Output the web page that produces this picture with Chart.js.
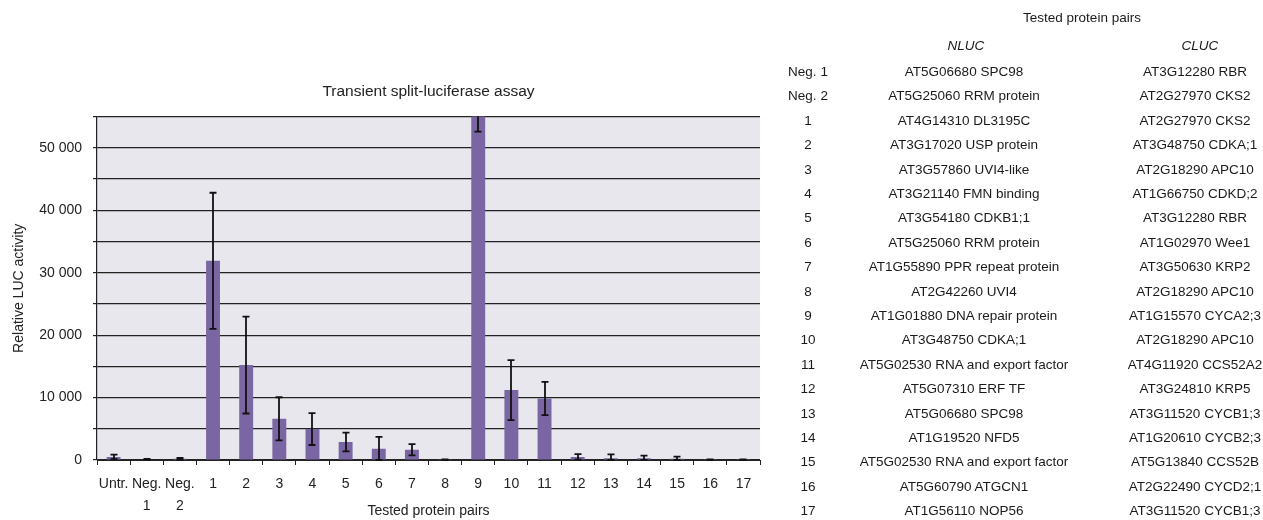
<!DOCTYPE html>
<html>
<head>
<meta charset="utf-8">
<title>Transient split-luciferase assay</title>
<script src="https://cdn.jsdelivr.net/npm/chart.js@4"></script>
<style>
  body { margin: 0; background: #fff; font-family: "Liberation Sans", Arial, sans-serif; }
  #wrap { position: absolute; left: 0; top: 0; width: 780px; height: 520px; }
  #pairs { position: absolute; left: 0; top: 0; width: 1263px; height: 520px; pointer-events: none; }
  .cell { position: absolute; white-space: nowrap; transform: translate(-50%, -50%); font-size: 13.5px; color: #1a1a1a; }
  .head { font-style: italic; }
</style>
</head>
<body>
<div id="wrap"><canvas id="lucChart"></canvas></div>
<div id="pairs"></div>
<script>
// bar chart data
const categories = ['Untr.', ['Neg.', '1'], ['Neg.', '2'], '1', '2', '3', '4', '5', '6', '7', '8', '9',
  '10', '11', '12', '13', '14', '15', '16', '17'];
const lucActivity = [500, 100, 200, 31900, 15200, 6600, 4950, 2880, 1800, 1650, 40, 56000,
  11200, 9850, 500, 300, 300, 200, 40, 40];
const lucError = [350, 60, 120, 10900, 7750, 3450, 2550, 1500, 1900, 900, 40, 3400,
  4800, 2650, 450, 600, 400, 330, 40, 40];
const yLabelValues = [0, 10000, 20000, 30000, 40000, 50000];

// table of tested pairs
const pairIds = ['Neg. 1', 'Neg. 2', '1', '2', '3', '4', '5', '6', '7', '8', '9', '10', '11', '12', '13', '14', '15', '16', '17'];
const nlucProteins = ['AT5G06680 SPC98', 'AT5G25060 RRM protein', 'AT4G14310 DL3195C', 'AT3G17020 USP protein',
  'AT3G57860 UVI4-like', 'AT3G21140 FMN binding', 'AT3G54180 CDKB1;1', 'AT5G25060 RRM protein',
  'AT1G55890 PPR repeat protein', 'AT2G42260 UVI4', 'AT1G01880 DNA repair protein', 'AT3G48750 CDKA;1',
  'AT5G02530 RNA and export factor', 'AT5G07310 ERF TF', 'AT5G06680 SPC98', 'AT1G19520 NFD5',
  'AT5G02530 RNA and export factor', 'AT5G60790 ATGCN1', 'AT1G56110 NOP56'];
const clucProteins = ['AT3G12280 RBR', 'AT2G27970 CKS2', 'AT2G27970 CKS2', 'AT3G48750 CDKA;1',
  'AT2G18290 APC10', 'AT1G66750 CDKD;2', 'AT3G12280 RBR', 'AT1G02970 Wee1', 'AT3G50630 KRP2',
  'AT2G18290 APC10', 'AT1G15570 CYCA2;3', 'AT2G18290 APC10', 'AT4G11920 CCS52A2', 'AT3G24810 KRP5',
  'AT3G11520 CYCB1;3', 'AT1G20610 CYCB2;3', 'AT5G13840 CCS52B', 'AT2G22490 CYCD2;1', 'AT3G11520 CYCB1;3'];

const ink = '#222';
const font = { family: '"Liberation Sans", Arial, sans-serif', size: 14 };

// grey-lilac plot background
const plotBackground = {
  id: 'plotBackground',
  beforeDraw(chart) {
    const { ctx, chartArea: a } = chart;
    ctx.save();
    ctx.fillStyle = '#E9E7EE';
    ctx.fillRect(a.left, a.top, a.right - a.left, a.bottom - a.top);
    ctx.restore();
  }
};

// error bars, clipped to the plot
const errorBars = {
  id: 'errorBars',
  afterDatasetsDraw(chart) {
    const { ctx, chartArea: a } = chart;
    const y = chart.scales.y;
    const meta = chart.getDatasetMeta(0);
    ctx.save();
    ctx.beginPath();
    ctx.rect(a.left, a.top, a.right - a.left, a.bottom - a.top + 2);
    ctx.clip();
    ctx.strokeStyle = '#111';
    ctx.lineWidth = 1.8;
    meta.data.forEach((bar, i) => {
      const top = y.getPixelForValue(lucActivity[i] + lucError[i]);
      const bot = y.getPixelForValue(Math.max(lucActivity[i] - lucError[i], 0));
      const x = Math.round(bar.x);
      ctx.beginPath();
      ctx.moveTo(x, top); ctx.lineTo(x, bot);
      ctx.moveTo(x - 3.5, top); ctx.lineTo(x + 3.5, top);
      ctx.moveTo(x - 3.5, bot); ctx.lineTo(x + 3.5, bot);
      ctx.stroke();
    });
    ctx.restore();
  }
};

new Chart(document.getElementById('lucChart'), {
  type: 'bar',
  data: {
    labels: categories,
    datasets: [{
      data: lucActivity,
      backgroundColor: '#7A66A3',
      borderWidth: 0,
      barPercentage: 0.42,
      categoryPercentage: 1
    }]
  },
  options: {
    responsive: true,
    maintainAspectRatio: false,
    animation: false,
    layout: { padding: { left: 0, right: 20, top: 0, bottom: 0 } },
    plugins: {
      legend: { display: false },
      tooltip: { enabled: false },
      title: {
        display: true,
        fullSize: false,
        text: 'Transient split-luciferase assay',
        color: ink,
        font: { family: font.family, size: 15.5, weight: 'normal' },
        padding: { top: 82, bottom: 16 }
      }
    },
    scales: {
      x: {
        offset: true,
        grid: { offset: true, drawOnChartArea: false, tickLength: 5, color: ink },
        border: { color: ink, width: 1 },
        ticks: { autoSkip: false, maxRotation: 0, minRotation: 0, padding: 8, color: ink,
          font: { family: font.family, size: 14, lineHeight: 1.6 } },
        title: { display: true, text: 'Tested protein pairs', color: ink, font: font, padding: { top: 0, bottom: 0 } },
        afterFit(scale) { scale.height = 60; }
      },
      y: {
        min: 0,
        max: 55000,
        grid: { color: ink, tickLength: 4, lineWidth: 1.2 },
        border: { color: ink, width: 1.2 },
        ticks: {
          stepSize: 5000,
          padding: 11,
          color: ink,
          font: font,
          callback: v => yLabelValues.includes(v) ? String(v).replace(/\B(?=(\d{3})+$)/g, ' ') : ''
        },
        title: { display: true, text: 'Relative LUC activity', color: ink, font: font, padding: { top: 11, bottom: 0 } },
        afterFit(scale) { scale.width = 97; }
      }
    }
  },
  plugins: [plotBackground, errorBars]
});

// table of the tested protein pairs
const pairs = document.getElementById('pairs');
function addCell(text, x, y, cls) {
  const d = document.createElement('div');
  d.className = 'cell' + (cls ? ' ' + cls : '');
  d.style.left = x + 'px';
  d.style.top = y + 'px';
  d.textContent = text;
  pairs.appendChild(d);
}
addCell('Tested protein pairs', 1082, 17);
addCell('NLUC', 966, 45, 'head');
addCell('CLUC', 1200, 45, 'head');
pairIds.forEach((id, i) => {
  const y = 71 + 24.4 * i;
  addCell(id, 808, y);
  addCell(nlucProteins[i], 964, y);
  addCell(clucProteins[i], 1195, y);
});
</script>
</body>
</html>
